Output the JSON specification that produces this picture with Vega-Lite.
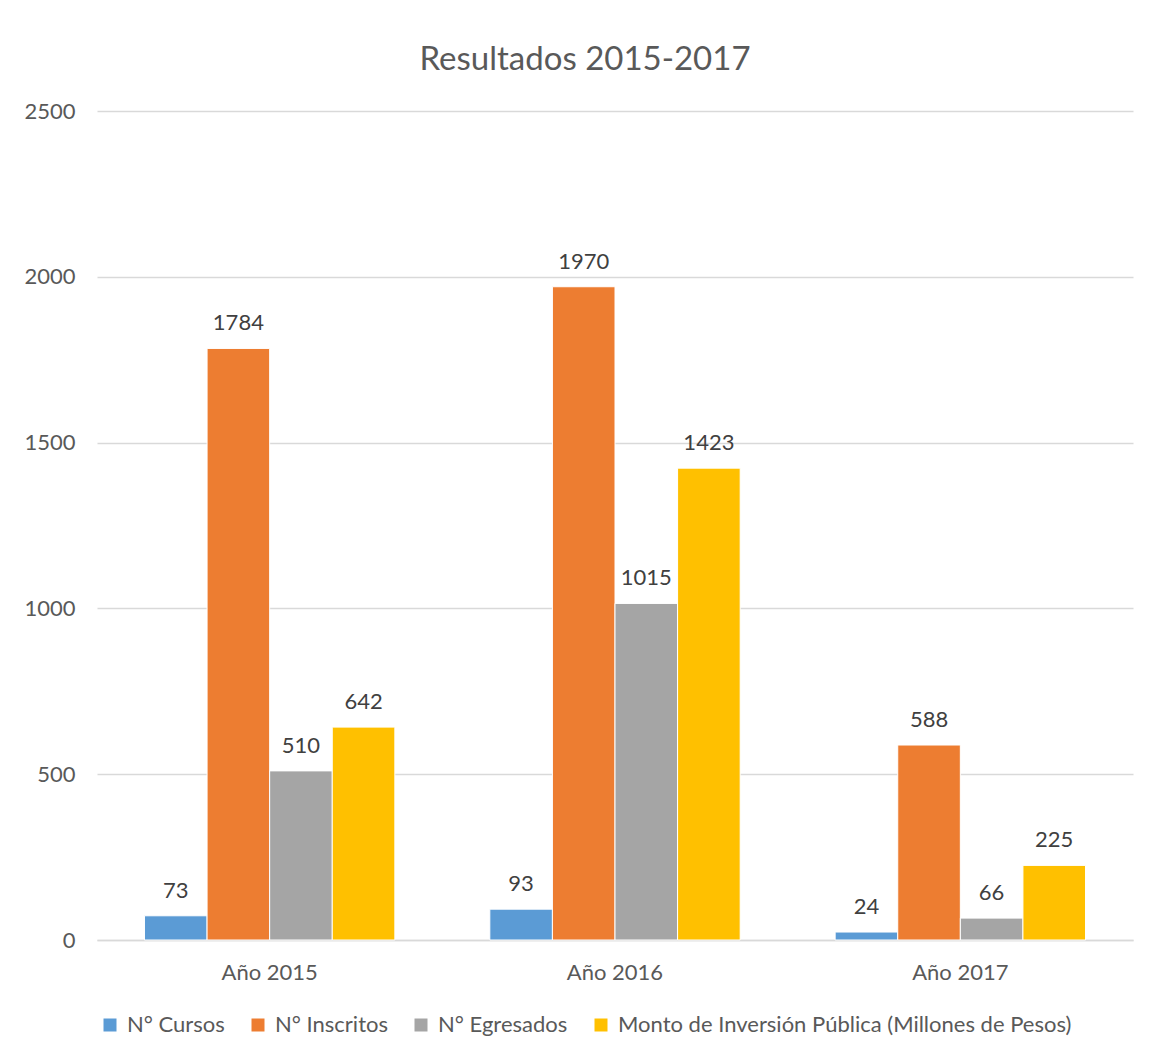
{
  "$schema": "https://vega.github.io/schema/vega-lite/v6.json",
  "width": 1036,
  "height": 829,
  "autosize": {"type": "none"},
  "padding": {"left": 97, "top": 111, "right": 18, "bottom": 117},
  "background": "white",
  "config": {
    "font": "Lato",
    "view": {"stroke": null},
    "axis": {"labelFont": "Lato", "labelColor": "#595959"}
  },
  "title": {
    "text": "Resultados 2015-2017",
    "font": "Lato",
    "fontSize": 33,
    "fontWeight": "normal",
    "color": "#595959",
    "anchor": "middle",
    "baseline": "alphabetic",
    "offset": -3,
    "dx": -30
  },
  "data": {
    "values": [
      {"anio": "Año 2015", "serie": "N° Cursos", "valor": 73},
      {"anio": "Año 2015", "serie": "N° Inscritos", "valor": 1784},
      {"anio": "Año 2015", "serie": "N° Egresados", "valor": 510},
      {"anio": "Año 2015", "serie": "Monto de Inversión Pública (Millones de Pesos)", "valor": 642},
      {"anio": "Año 2016", "serie": "N° Cursos", "valor": 93},
      {"anio": "Año 2016", "serie": "N° Inscritos", "valor": 1970},
      {"anio": "Año 2016", "serie": "N° Egresados", "valor": 1015},
      {"anio": "Año 2016", "serie": "Monto de Inversión Pública (Millones de Pesos)", "valor": 1423},
      {"anio": "Año 2017", "serie": "N° Cursos", "valor": 24},
      {"anio": "Año 2017", "serie": "N° Inscritos", "valor": 588},
      {"anio": "Año 2017", "serie": "N° Egresados", "valor": 66},
      {"anio": "Año 2017", "serie": "Monto de Inversión Pública (Millones de Pesos)", "valor": 225}
    ]
  },
  "encoding": {
    "x": {
      "field": "anio",
      "type": "nominal",
      "sort": null,
      "scale": {"paddingInner": 0.275, "paddingOuter": 0.1375},
      "axis": {
        "title": null,
        "labelAngle": 0,
        "labelFontSize": 22,
        "labelBaseline": "alphabetic",
        "labelPadding": 39,
        "ticks": false,
        "tickSize": 0,
        "domainColor": "#d9d9d9",
        "domainWidth": 1.5,
        "grid": false
      }
    },
    "xOffset": {
      "field": "serie",
      "type": "nominal",
      "sort": ["N° Cursos", "N° Inscritos", "N° Egresados", "Monto de Inversión Pública (Millones de Pesos)"],
      "scale": {"paddingInner": 0, "paddingOuter": 0}
    },
    "y": {
      "field": "valor",
      "type": "quantitative",
      "scale": {"domain": [0, 2500], "nice": false},
      "axis": {
        "title": null,
        "values": [0, 500, 1000, 1500, 2000, 2500],
        "format": "d",
        "labelFontSize": 22,
        "labelPadding": 22,
        "ticks": false,
        "tickSize": 0,
        "domain": false,
        "gridColor": "#d9d9d9",
        "gridWidth": 1.5
      }
    }
  },
  "layer": [
    {
      "mark": {"type": "bar", "stroke": "white", "strokeWidth": 1},
      "encoding": {
        "color": {
          "field": "serie",
          "type": "nominal",
          "scale": {
            "domain": ["N° Cursos", "N° Inscritos", "N° Egresados", "Monto de Inversión Pública (Millones de Pesos)"],
            "range": ["#5B9BD5", "#ED7D31", "#A5A5A5", "#FFC000"]
          },
          "legend": {
            "title": null,
            "orient": "none",
            "direction": "horizontal",
            "legendX": 2,
            "legendY": 903,
            "symbolType": "square",
            "symbolSize": 169,
            "symbolStrokeWidth": 0,
            "labelFont": "Lato",
            "labelFontSize": 22,
            "labelColor": "#595959",
            "labelOffset": 6,
            "labelLimit": 0,
            "columnPadding": 22
          }
        }
      }
    },
    {
      "mark": {"type": "text", "baseline": "alphabetic", "dy": -18, "fontSize": 22, "color": "#404040", "font": "Lato"},
      "encoding": {
        "text": {"field": "valor", "type": "quantitative"}
      }
    }
  ]
}
